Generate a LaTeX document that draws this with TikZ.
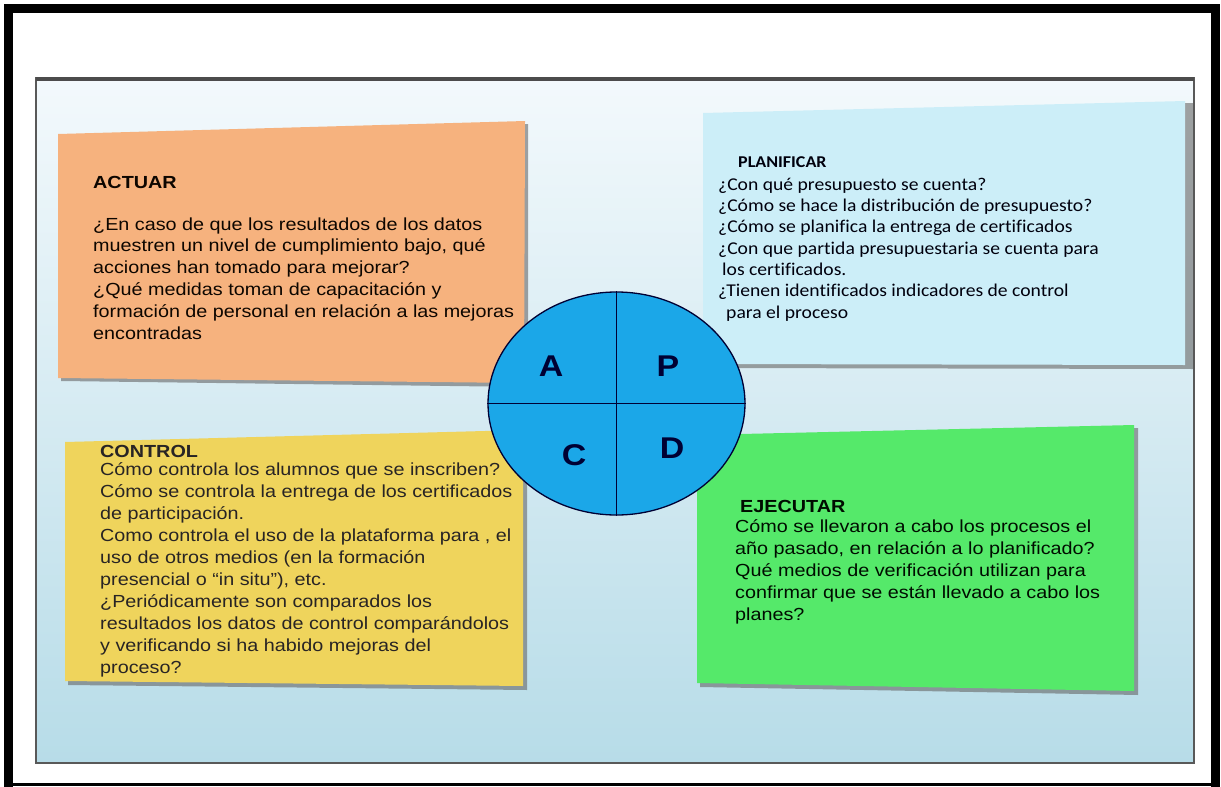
\documentclass[tikz,border=0pt]{standalone}
\usepackage{fontspec}
\setmainfont[FakeStretch=1.13]{Liberation Sans}
\newfontfamily\carlito[FakeStretch=1.09,Ligatures=NoCommon]{Carlito}
\usetikzlibrary{shapes.geometric}
\definecolor{actuarfill}{HTML}{F6B27E}
\definecolor{planfill}{HTML}{CCEEF8}
\definecolor{controlfill}{HTML}{EFD45C}
\definecolor{ejecfill}{HTML}{55E96A}
\definecolor{cyclefill}{HTML}{1BA7E8}
\definecolor{panelTop}{HTML}{F3F9FC}
\definecolor{panelBottom}{HTML}{B7DCE8}
\tikzset{
  shadowbox/.style={fill=black!60, opacity=0.6},
  boxtitle/.style={anchor=base west, inner sep=0pt, font=\bfseries\fontsize{17.5}{21}\selectfont},
  boxbody/.style={anchor=north west, inner sep=0pt, align=left, font=\fontsize{17.5}{21.8}\selectfont},
  letter/.style={inner sep=0pt, text=black!80!blue, font=\bfseries\fontsize{30}{30}\selectfont}
}
\begin{document}
\begin{tikzpicture}[x=1pt, y=-1pt]
    \useasboundingbox (0,0) rectangle (1221,787);
    \fill[white] (0,0) rectangle (1221,787);

    \shade[top color=panelTop, bottom color=panelBottom] (36,78) rectangle (1194,763);
    \draw[gray!70!black, line width=1.5pt] (36,78) rectangle (1194,763);
    \draw[gray!60!black, line width=3.5pt] (36,79) -- (1194,79);

    \fill[shadowbox] (61,137) -- (528,124) -- (528,387) -- (61,381) -- cycle;
    \fill[actuarfill] (58,134) -- (525,121) -- (524,383) -- (58,378) -- cycle;
    \fill[shadowbox] (707,116) -- (1193,103) -- (1193,369) -- (707,368) -- cycle;
    \fill[planfill] (703,113) -- (1185,101) -- (1185,365) -- (703,364) -- cycle;
    \fill[shadowbox] (68,445) -- (527,433) -- (527,690) -- (68,685) -- cycle;
    \fill[controlfill] (65,442) -- (523,430) -- (523,686) -- (65,681) -- cycle;
    \fill[shadowbox] (700,438) -- (1138,428) -- (1138,695) -- (700,687) -- cycle;
    \fill[ejecfill] (697,435) -- (1134,425) -- (1134,691) -- (697,683) -- cycle;

    \node[boxtitle, text=black!95!orange] (actuar) at (93,188) {ACTUAR};
    \node[boxbody, text=black!95!orange] (actuartext) at (93,214.7) {\strut¿En caso de que los resultados de los datos\\
      muestren un nivel de cumplimiento bajo, qué\\
      acciones han tomado para mejorar?\\
      ¿Qué medidas toman de capacitación y\\
      formación de personal en relación a las mejoras\\
      encontradas};

    \node[boxtitle, font=\carlito\bfseries\fontsize{16.5}{18}\selectfont, text=black!95!blue] (planificar) at (738,167) {PLANIFICAR};
    \node[boxbody, font=\carlito\fontsize{18}{21.3}\selectfont, text=black!95!blue] (planificartext) at (718,175.1) {\strut¿Con qué presupuesto se cuenta?\\
      ¿Cómo se hace la distribución de presupuesto?\\
      ¿Cómo se planifica la entrega de certificados\\
      ¿Con que partida presupuestaria se cuenta para\\
      \hspace{4pt}los certificados.\\
      ¿Tienen identificados indicadores de control\\
      \hspace{8pt}para el proceso};

    \node[boxtitle, text=black!95!olive] (control) at (100,457) {CONTROL};
    \node[boxbody, font=\fontsize{17.5}{22}\selectfont, text=black!95!olive] (controltext) at (100,459.6) {\strut Cómo controla los alumnos que se inscriben?\\
      Cómo se controla la entrega de los certificados\\
      de participación.\\
      Como controla el uso de la plataforma para , el\\
      uso de otros medios (en la formación\\
      presencial o ``in situ''), etc.\\
      ¿Periódicamente son comparados los\\
      resultados los datos de control comparándolos\\
      y verificando si ha habido mejoras del\\
      proceso?};

    \node[boxtitle, text=black!95!green] (ejecutar) at (740,512) {EJECUTAR};
    \node[boxbody, font=\fontsize{17.5}{22}\selectfont, text=black!95!green] (ejecutartext) at (735,516.6) {\strut Cómo se llevaron a cabo los procesos el\\
      año pasado, en relación a lo planificado?\\
      Qué medios de verificación utilizan para\\
      confirmar que se están llevado a cabo los\\
      planes?};

    \node[ellipse, draw=black!80!blue, line width=1.3pt, fill=cyclefill, minimum width=257pt, minimum height=223pt, inner sep=0pt] (cycle) at (616.5,403.5) {};
    \draw[black!80!blue, line width=1.3pt] (cycle.north) -- (cycle.south);
    \draw[black!80!blue, line width=1.3pt] (cycle.west) -- (cycle.east);
    \node[letter] (A) at (551,366) {A};
    \node[letter] (P) at (668,366) {P};
    \node[letter] (C) at (574,455) {C};
    \node[letter] (D) at (672,448) {D};

    \draw[line width=9pt] (8.8,787) -- (8.8,8.8) -- (1215.5,8.8) -- (1215.5,787);
    \draw[line width=2.5pt] (4,784.5) -- (1220,784.5);
\end{tikzpicture}
\end{document}
